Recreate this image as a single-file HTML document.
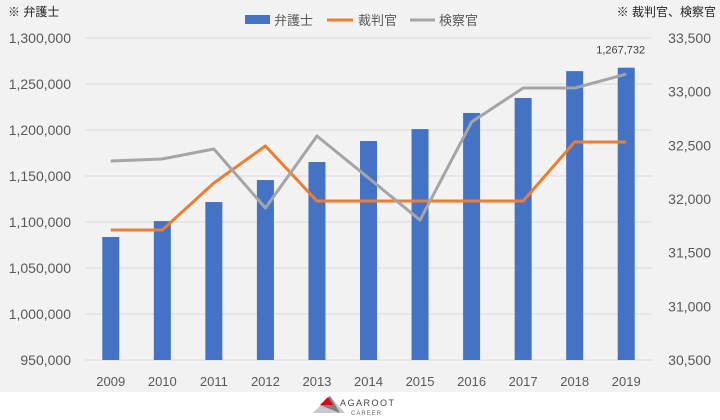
<!DOCTYPE html>
<html><head><meta charset="utf-8"><style>
body{margin:0;background:#fff;}
svg{display:block;font-family:"Liberation Sans","Noto Sans CJK JP",sans-serif;}
</style></head><body>
<svg id="c" width="720" height="420">
<rect x="0" y="0" width="720" height="392" fill="#f2f2f2"/>
<text x="8" y="16" font-size="12" fill="#222">※ 弁護士</text>
<text x="716" y="16" font-size="12" fill="#222" text-anchor="end">※ 裁判官、検察官</text>
<g>
<rect x="245" y="15" width="25" height="9" fill="#4472c4"/>
<text x="274" y="25" font-size="13" fill="#595959">弁護士</text>
<line x1="327" y1="20" x2="353" y2="20" stroke="#ed7d31" stroke-width="3"/>
<text x="358" y="25" font-size="13" fill="#595959">裁判官</text>
<line x1="410" y1="20" x2="435" y2="20" stroke="#a5a5a5" stroke-width="3"/>
<text x="439" y="25" font-size="13" fill="#595959">検察官</text>
</g>
<g id="grid"></g><g id="bars"></g><g id="lines"></g><g id="axes"></g>
<g>
<polygon points="313,413 330,396 345,413" fill="#c8c8c8"/>
<polygon points="320,405 330,396 340,413" fill="#7f7f7f"/>
<polygon points="320,405 328,397 333,405" fill="#e0001b"/>
<text x="340" y="406" font-size="9" fill="#444" letter-spacing="1.5">AGAROOT</text>
<text x="351" y="415" font-size="6" fill="#666" letter-spacing="1">CAREER</text>
</g>
</svg>
<script>
const years=["2009","2010","2011","2012","2013","2014","2015","2016","2017","2018","2019"];
const lawyers=[1083700,1101000,1121700,1145600,1165200,1188000,1201000,1218500,1234800,1264000,1267732];
const judges=[31711,31711,32149,32494,31981,31981,31981,31981,31981,32531,32531];
const prosecutors=[32354,32373,32466,31916,32587,32196,31804,32717,33034,33034,33164];
const leftTicks=[950000,1000000,1050000,1100000,1150000,1200000,1250000,1300000];
const rightTicks=[30500,31000,31500,32000,32500,33000,33500];
const NS="http://www.w3.org/2000/svg";
const yTop=38,yBot=360,x0=85,x1=652;
const yL=v=>yBot-(v-950000)/350000*(yBot-yTop);
const yR=v=>yBot-(v-30500)/3000*(yBot-yTop);
const step=(x1-x0)/years.length;
const xC=i=>x0+step*(i+0.5);
function mk(t,a,p){const e=document.createElementNS(NS,t);for(const k in a)e.setAttribute(k,a[k]);p.appendChild(e);return e;}
const grid=document.getElementById('grid'),bars=document.getElementById('bars'),lines=document.getElementById('lines'),axes=document.getElementById('axes');
leftTicks.forEach(v=>{
 const l=mk('line',{x1:85,x2:x1,y1:yL(v),y2:yL(v),stroke:'#d9d9d9','stroke-width':1},grid);
 
 
 const t=mk('text',{x:71,y:yL(v)+5,'font-size':14,fill:'#595959','text-anchor':'end'},axes);
 t.textContent=v.toLocaleString('en-US');
 
 
});
rightTicks.forEach(v=>{
 const t=mk('text',{x:711,y:yR(v)+5,'font-size':14,fill:'#595959','text-anchor':'end'},axes);
 t.textContent=v.toLocaleString('en-US');
 
 
});
years.forEach((y,i)=>{
 const t=mk('text',{x:xC(i),y:386,'font-size':13,fill:'#595959','text-anchor':'middle'},axes);
 t.textContent=y;
 
 
});
lawyers.forEach((v,i)=>{
 const r=mk('rect',{x:xC(i)-8.5,y:yL(v),width:17,height:yBot-yL(v),fill:'#4472c4'},bars);
 
 
});
const lt=mk('text',{x:xC(10)-30,y:yL(lawyers[10])-14,'font-size':11,fill:'#404040','text-anchor':'start'},axes);
lt.textContent=lawyers[10].toLocaleString('en-US');


[[judges,'#ed7d31','line-judges'],[prosecutors,'#a5a5a5','line-prosecutors']].forEach(([d,c,n])=>{
 const p=mk('polyline',{points:d.map((v,i)=>xC(i)+','+yR(v)).join(' '),fill:'none',stroke:c,'stroke-width':3,'stroke-linejoin':'round'},lines);
 
 
});
</script>
</body></html>
